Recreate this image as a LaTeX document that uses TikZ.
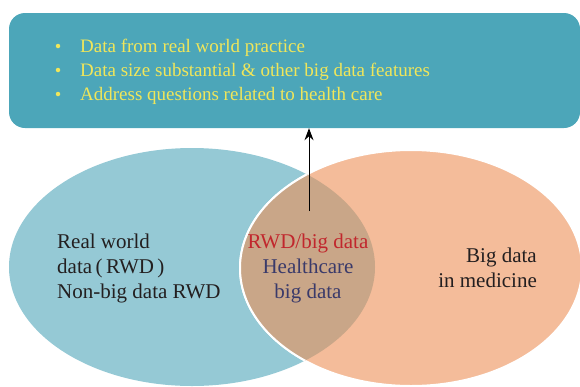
\documentclass[tikz,border=0pt]{standalone}
\usepackage{fontspec}
\setmainfont{Liberation Serif}
\usetikzlibrary{arrows.meta}
\definecolor{boxteal}{HTML}{4CA6B9}
\definecolor{textyellow}{HTML}{F0E65A}
\definecolor{setblue}{HTML}{95C9D5}
\definecolor{setorange}{HTML}{F4BC9A}
\definecolor{setlens}{HTML}{C9A688}
\definecolor{lensred}{HTML}{C1272D}
\definecolor{lensnavy}{HTML}{3A3A6A}
\definecolor{darktext}{HTML}{231F20}
\begin{document}
\begin{tikzpicture}[x=1pt,y=-1pt,
		txt/.style={font=\fontsize{21}{25}\selectfont, inner sep=0pt},
		item/.style={font=\fontsize{19}{24}\selectfont, inner sep=0pt, text=textyellow, anchor=base west},
		dot/.style={circle, fill=textyellow, inner sep=0pt, minimum size=4.5pt}
		]
		\useasboundingbox (0,0) rectangle (580,386);
		\node (box) [fill=boxteal, rounded corners=16pt, minimum width=571pt, minimum height=115pt,
			inner sep=0pt] at (294.5,70.5) {};
		\foreach \y/\t [count=\i] in {52/Data from real world practice,
			76/Data size substantial \& other big data features,
			100/Address questions related to health care}{
			\node (d\i) [dot] at (58,\y-6) {};
			\node (t\i) [item] at (80,\y) {\t};
		}
		\begin{scope}
			\clip (0,0) rectangle (580,386);
			\fill [setblue] (192,267) ellipse [x radius=183, y radius=119];
			\fill [setorange, draw=white, line width=2pt] (411,268) ellipse [x radius=171, y radius=118];
			\begin{scope}
				\clip (192,267) ellipse [x radius=183, y radius=119];
				\fill [setlens, draw=white, line width=2pt] (411,268) ellipse [x radius=171, y radius=118];
			\end{scope}
		\end{scope}
		\node (rwd) [txt, text=darktext, align=left, anchor=north west] at (57,233.5)
			{Real world\\data\,(\,RWD\,)\\Non-big data RWD};
		\node (ovl) [txt, text=lensnavy, align=center, anchor=north] at (308,233.5)
			{\textcolor{lensred}{RWD/big data}\\Healthcare\\big data};
		\node (big) [txt, text=darktext, align=right, anchor=north east] at (537,247.5)
			{Big data\\in medicine};
		\coordinate (tail) at (309,211);
		\draw [line width=1pt, -{Stealth[length=12pt,width=9pt]}] (tail) -- (tail |- box.south);
	\end{tikzpicture}
\end{document}
